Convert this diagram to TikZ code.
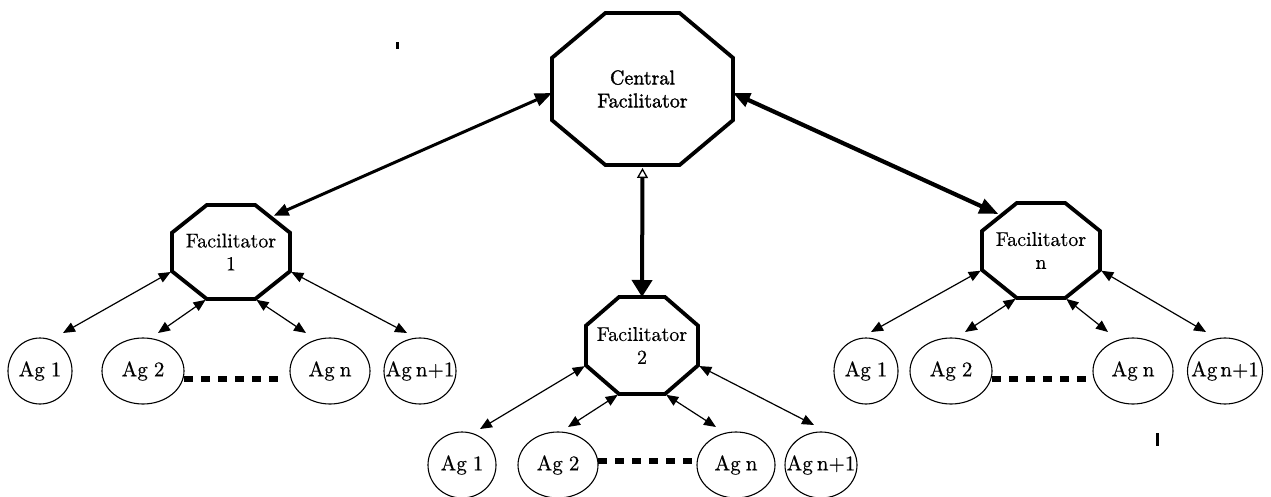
\documentclass[tikz,border=0pt]{standalone}
\usepackage{fontspec}
\usetikzlibrary{arrows.meta,calc,shapes.geometric}

\newfontfamily\diagramfont[FakeBold=0.5]{lmroman10-regular.otf}
\newfontfamily\centralfont[FakeBold=1.6]{lmroman10-regular.otf}

% fraction of each side cut off at the corners of an octagon
\newcommand\octcut{0.295}
% agent labels take no width, so the ellipse keeps its own size
\newcommand\agtext[1]{\makebox[0pt]{\fontsize{21}{23}\selectfont #1}}

% octagon: name, centre, width, height, extra style, label
\newcommand\octagonnode[6]{%
  \node[octbox, minimum width=#3, minimum height=#4, #5] (#1) at #2 {#6};
  \coordinate (#1-1) at ($(#1.north west)!\octcut!(#1.north east)$);
  \coordinate (#1-2) at ($(#1.north east)!\octcut!(#1.north west)$);
  \coordinate (#1-3) at ($(#1.north east)!\octcut!(#1.south east)$);
  \coordinate (#1-4) at ($(#1.south east)!\octcut!(#1.north east)$);
  \coordinate (#1-5) at ($(#1.south east)!\octcut!(#1.south west)$);
  \coordinate (#1-6) at ($(#1.south west)!\octcut!(#1.south east)$);
  \coordinate (#1-7) at ($(#1.south west)!\octcut!(#1.north west)$);
  \coordinate (#1-8) at ($(#1.north west)!\octcut!(#1.south west)$);
  \coordinate (#1-ne) at ($(#1-2)!0.5!(#1-3)$);
  \coordinate (#1-nw) at ($(#1-8)!0.5!(#1-1)$);
  \draw[octline] (#1-1) -- (#1-2) -- (#1-3) -- (#1-4) -- (#1-5) -- (#1-6)
    -- (#1-7) -- (#1-8) -- cycle;
}

\begin{document}
\begin{tikzpicture}[x=1pt,y=-1pt,
  font=\diagramfont\fontsize{20}{23}\selectfont,
  octbox/.style={rectangle, draw=none, inner sep=0pt, outer sep=0pt, align=center},
  octline/.style={line width=3.8pt, line join=miter},
  centraltext/.style={font=\centralfont\fontsize{20}{23}\selectfont},
  agent/.style={ellipse, draw, line width=1.1pt, minimum height=66pt,
    minimum width=#1, inner sep=0pt, outer sep=0pt},
  link/.style={line width=1.2pt, shorten <=1.5pt,
    {Triangle[length=12pt,width=10pt]}-{Triangle[length=12pt,width=10pt]}},
  trunkleft/.style={line width=3pt,
    {Triangle[length=17pt,width=13pt]}-{Triangle[length=15pt,width=12pt]}},
  trunkright/.style={line width=4.2pt,
    {Triangle[length=17pt,width=14pt]}-{Triangle[length=19pt,width=15pt]}},
  trunkdown/.style={line width=4pt,
    {Triangle[open,length=10pt,width=11pt,line width=1.3pt]}-{Triangle[length=17pt,width=20pt]}},
  dotrow/.style={line width=6pt, dash pattern=on 9pt off 8pt},
]
\useasboundingbox (0,0) rectangle (1271,497);

% facilitators
\octagonnode{cf}{(642.5,89)}{181pt}{152pt}{centraltext}{Central\\Facilitator}
\octagonnode{f1}{(231,252)}{118pt}{94pt}{}{Facilitator\\1}
\octagonnode{f2}{(642,345.5)}{112pt}{97pt}{}{Facilitator\\2}
\octagonnode{fn}{(1041,250.5)}{118pt}{95pt}{}{Facilitator\\n}

% agents under facilitator 1
\node[agent=64pt] (a11) at (40,371)  {\agtext{Ag\hspace{6pt}1}};
\node[agent=82pt] (a12) at (143,371) {\agtext{Ag\hspace{6pt}2}};
\node[agent=80pt] (a13) at (330,371) {\agtext{Ag\hspace{5pt}n}};
\node[agent=72pt] (a14) at (420,371) {\agtext{Ag\hspace{4pt}n+1}};
% agents under facilitator 2
\node[agent=68pt] (a21) at (462,465) {\agtext{Ag\hspace{6pt}1}};
\node[agent=80pt] (a22) at (558,465) {\agtext{Ag\hspace{6pt}2}};
\node[agent=78pt] (a23) at (736,465) {\agtext{Ag\hspace{5pt}n}};
\node[agent=72pt] (a24) at (821,465) {\agtext{Ag\hspace{4pt}n+1}};
% agents under facilitator n
\node[agent=64pt] (a31) at (866,371)  {\agtext{Ag\hspace{6pt}1}};
\node[agent=82pt] (a32) at (951,371)  {\agtext{Ag\hspace{6pt}2}};
\node[agent=80pt] (a33) at (1133,371) {\agtext{Ag\hspace{5pt}n}};
\node[agent=75pt] (a34) at (1225,371) {\agtext{Ag\hspace{3pt}n+1}};

% rows of dots between Ag 2 and Ag n
\draw[dotrow, shorten >=10pt] ([yshift=-8pt]a12.east) -- ([yshift=-8pt]a13.west);
\draw[dotrow, shorten >=3pt]  ([yshift=4pt]a22.east)  -- ([yshift=4pt]a23.west);
\draw[dotrow, shorten >=5pt]  ([yshift=-8pt]a32.east) -- ([yshift=-8pt]a33.west);

% central facilitator links
\draw[trunkleft]  ([yshift=-4pt]cf.west) -- ([shift={(1,-3)}]f1-ne);
\draw[trunkright] ([yshift=-4pt]cf.east) -- ([shift={(-1,-3)}]fn-nw);
\draw[trunkdown]  ([yshift=-3pt]cf.south) -- (f2.north);

% facilitator 1 links
\draw[link] (f1-7) -- ([shift={(23,-5)}]a11.north);
\draw[link] (f1-6) -- ([shift={(15,-5)}]a12.north);
\draw[link] (f1-5) -- ([shift={(-24,-5)}]a13.north);
\draw[link] (f1-4) -- ([shift={(-13,-5)}]a14.north);
% facilitator 2 links
\draw[link] (f2-7) -- ([shift={(18,-3)}]a21.north);
\draw[link] (f2-6) -- ([shift={(10,-5)}]a22.north);
\draw[link] (f2-5) -- ([shift={(-20,-5)}]a23.north);
\draw[link] (f2-4) -- ([shift={(-7,-7)}]a24.north);
% facilitator n links
\draw[link] (fn-7) -- ([shift={(5,-6)}]a31.north);
\draw[link] (fn-6) -- ([shift={(14,-6)}]a32.north);
\draw[link] (fn-5) -- ([shift={(-25,-6)}]a33.north);
\draw[link] (fn-4) -- ([shift={(-19,-6)}]a34.north);

% specks on the sheet
\fill (396,42) rectangle (398.5,49);
\fill (1156,433) rectangle (1159,446);
\end{tikzpicture}
\end{document}
